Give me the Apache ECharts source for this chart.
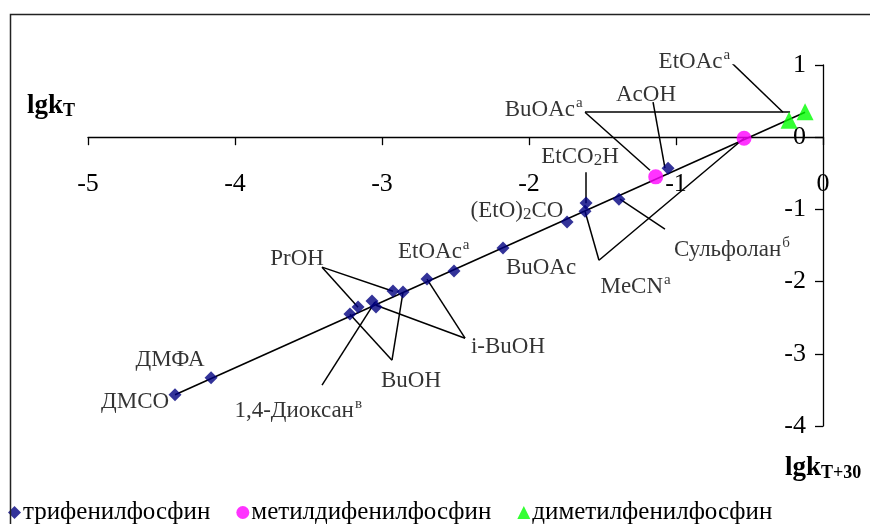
<!DOCTYPE html>
<html><head><meta charset="utf-8">
<script src="https://cdn.jsdelivr.net/npm/echarts@6/dist/echarts.min.js"></script>
<style>html,body{margin:0;padding:0;background:#fff}#c{width:870px;height:524px}</style>
</head><body><div id="c"></div>
<script>
// --- data ---
const ph3X = [-4.408,-4.163,-3.218,-3.163,-3.068,-3.041,-2.925,-2.857,-2.694,-2.510,-2.177,-1.741,-1.619,-1.612,-1.388,-1.054];
const ph3Y = [-3.568,-3.333,-2.448,-2.351,-2.268,-2.351,-2.130,-2.144,-1.964,-1.853,-1.535,-1.175,-1.024,-0.913,-0.858,-0.429];
const mePh2X = [-1.138,-0.537];
const mePh2Y = [-0.549,-0.014];
const me2PhX = [-0.231,-0.122];
const me2PhY = [0.235,0.353];
const fitX = [-4.408,-0.122];
const fitY = [-3.568,0.346];
const seriesNames = ['трифенилфосфин','метилдифенилфосфин','диметилфенилфосфин'];
const xTicks = [-5,-4,-3,-2,-1,0];
const yTicks = [-4,-3,-2,-1,0,1];
// solvent annotations: text, anchor x, anchor y (data units)
const solventText = ['ДМСО','ДМФА','1,4-Диоксан{sup|в}','PrOH','BuOH','i-BuOH','EtOAc{sup|a}','BuOAc','(EtO){sub|2}CO','EtCO{sub|2}H','MeCN{sup|a}','Сульфолан{sup|б}','AcOH','BuOAc{sup|a}','EtOAc{sup|a}'];
const solventX = [-4.680,-4.442,-3.570,-3.578,-2.803,-2.143,-2.648,-1.918,-2.082,-1.653,-1.275,-0.620,-1.204,-1.900,-0.875];
const solventY = [-3.670,-3.089,-3.795,-1.690,-3.380,-2.909,-1.593,-1.814,-1.025,-0.277,-2.078,-1.565,0.582,0.374,1.039];
// leader lines: [x1, y1, x2, y2]
const leaderLines = [
  [-3.408,-1.800,-2.925,-2.133],
  [-3.408,-1.800,-3.163,-2.355],
  [-2.435,-2.784,-2.694,-1.967],
  [-2.435,-2.784,-3.041,-2.327],
  [-2.932,-3.089,-3.218,-2.452],
  [-2.932,-3.089,-2.857,-2.147],
  [-3.408,-3.435,-3.048,-2.285],
  [-1.612,-0.485,-1.612,-0.914],
  [-1.524,-1.704,-1.619,-1.025],
  [-1.524,-1.704,-0.537,-0.014],
  [-1.075,-1.274,-1.381,-0.859],
  [-1.156,0.485,-1.075,-0.429],
  [-1.619,0.346,-1.177,-0.457],
  [-1.619,0.346,-0.224,0.346],
  [-0.626,1.039,-0.272,0.346]
];

const zip = (a,b) => a.map((v,i)=>[v,b[i]]);
const serif = '"Liberation Serif","Times New Roman",serif';
const rich = {
  sup:{fontSize:15,fontFamily:serif,color:'#000',verticalAlign:'top',padding:[0,0,14,1]},
  sub:{fontSize:17,fontFamily:serif,color:'#000',verticalAlign:'bottom',padding:[6,0,0,0]}
};
const axisFont = {fontSize:26,fontFamily:serif,color:'#000'};

const chart = echarts.init(document.getElementById('c'));
chart.setOption({
  animation:false,
  backgroundColor:'#fff',
  grid:[{left:88,right:47,top:65,bottom:98},{left:88,right:47,top:65,bottom:387}],
  xAxis:[
    {type:'value',gridIndex:0,min:xTicks[0],max:xTicks[xTicks.length-1],interval:1,
      axisLine:{onZero:true,lineStyle:{color:'#000',width:1.3}},
      axisTick:{show:true,length:8,lineStyle:{color:'#000',width:1.3}},
      axisLabel:{show:false},splitLine:{show:false}},
    {type:'value',gridIndex:1,min:xTicks[0],max:xTicks[xTicks.length-1],interval:1,
      axisLine:{show:false},axisTick:{show:false},
      axisLabel:Object.assign({margin:34},axisFont),splitLine:{show:false}}
  ],
  yAxis:[
    {type:'value',gridIndex:0,position:'right',min:yTicks[0],max:yTicks[yTicks.length-1],interval:1,
      axisLine:{onZero:false,lineStyle:{color:'#000',width:1.3}},
      axisTick:{show:true,inside:true,length:8,lineStyle:{color:'#000',width:1.3}},
      axisLabel:Object.assign({inside:true,margin:17},axisFont),
      splitLine:{show:false}},
    {type:'value',gridIndex:1,min:0,max:1,show:false}
  ],
  legend:{data:seriesNames,left:3,top:495,itemGap:26,itemWidth:13,itemHeight:13,
    textStyle:{fontSize:25,fontFamily:serif,color:'#000',padding:[0,0,0,-3]}},
  graphic:[
    {type:'rect',left:8,top:12,shape:{x:0,y:0,width:900,height:600},style:{fill:'none',stroke:'#222',lineWidth:1.5},silent:true,z:100},
    {type:'text',left:27,top:93,style:{text:'{m|lgk}{s|T}',rich:{m:{fontSize:27,fontWeight:'bold',fontFamily:serif,color:'#000'},s:{fontSize:18,fontWeight:'bold',fontFamily:serif,color:'#000',verticalAlign:'bottom',padding:[10,0,0,0]}}}},
    {type:'text',left:785,top:455,style:{text:'{m|lgk}{s|T+30}',rich:{m:{fontSize:27,fontWeight:'bold',fontFamily:serif,color:'#000'},s:{fontSize:18,fontWeight:'bold',fontFamily:serif,color:'#000',verticalAlign:'bottom',padding:[10,0,0,0]}}}}
  ],
  series:[
    {name:'fit',type:'line',data:zip(fitX,fitY),showSymbol:false,symbol:'none',clip:false,
      lineStyle:{color:'#000',width:1.6},z:3,silent:true},
    {name:'leaders',type:'lines',coordinateSystem:'cartesian2d',silent:true,z:2,
      data:leaderLines.map(l=>({coords:[[l[0],l[1]],[l[2],l[3]]]})),
      lineStyle:{color:'#000',width:1.5,opacity:1}},
    {name:'labels',type:'scatter',data:zip(solventX,solventY).map((p,i)=>({value:p,text:solventText[i]})),
      symbolSize:0,clip:false,silent:true,z:4,
      label:{show:true,position:'inside',align:'center',verticalAlign:'middle',
        formatter:p=>p.data.text,fontSize:23,fontFamily:serif,color:'#000',rich:rich}},
    {name:seriesNames[0],type:'scatter',data:zip(ph3X,ph3Y),symbol:'diamond',symbolSize:13,
      itemStyle:{color:'#000080'},z:6,clip:false},
    {name:seriesNames[1],type:'scatter',data:zip(mePh2X,mePh2Y),symbol:'circle',symbolSize:15,
      itemStyle:{color:'#ff00ff'},z:5,clip:false},
    {name:seriesNames[2],type:'scatter',data:zip(me2PhX,me2PhY),symbol:'triangle',symbolSize:17,
      itemStyle:{color:'#00ff00'},z:5,clip:false}
  ]
});
</script></body></html>
